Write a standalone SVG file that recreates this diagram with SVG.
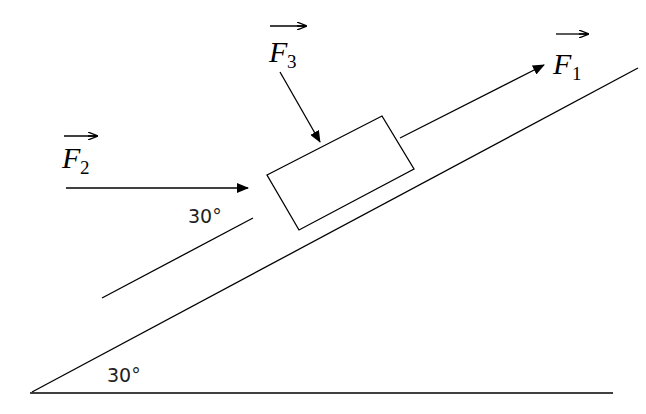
<svg xmlns="http://www.w3.org/2000/svg" width="646" height="414" viewBox="0 0 646 414">
<style>
.l{stroke:#000;stroke-width:1.3;fill:none}
.f{font-family:"Liberation Serif",serif;font-style:italic;font-size:30px}
.s{font-family:"Liberation Serif",serif;font-size:19px}
.d{font-family:"DejaVu Sans",sans-serif;font-size:19px;fill:#222}
</style>
<defs>
<marker id="a" markerWidth="12" markerHeight="10" refX="11" refY="5" orient="auto" markerUnits="userSpaceOnUse"><path d="M0,0 L12,5 L0,10 Z"/></marker>
<marker id="v" markerWidth="10" markerHeight="8" refX="9" refY="4" orient="auto" markerUnits="userSpaceOnUse"><path d="M0,0 L10,4 L0,8 M0,4 L10,4" stroke="#000" fill="none" stroke-width="1.3"/></marker>
</defs>
<g id="ground"><line class="l" x1="30" y1="393" x2="613" y2="393" stroke-width="2"/><line class="l" x1="32" y1="392" x2="638" y2="68"/></g>
<g id="guide"><line class="l" x1="102" y1="298" x2="253" y2="218"/></g>
<g id="block"><polygon class="l" points="267,175 382,116 414,169 299,230"/></g>
<g id="connectors">
<line class="l" x1="66" y1="188" x2="248" y2="188" marker-end="url(#a)"/>
<line class="l" x1="400" y1="138" x2="544" y2="65" marker-end="url(#a)"/>
<line class="l" x1="280" y1="72" x2="320" y2="142" marker-end="url(#a)"/>
</g>
<g id="F1"><text class="f" x="553" y="74">F</text><text class="s" x="572" y="80">1</text><line class="l" x1="556" y1="34" x2="588" y2="34" marker-end="url(#v)"/></g>
<g id="F2"><text class="f" x="62" y="168">F</text><text class="s" x="80" y="174">2</text><line class="l" x1="64" y1="136" x2="97" y2="136" marker-end="url(#v)"/></g>
<g id="F3"><text class="f" x="269" y="62">F</text><text class="s" x="287" y="68">3</text><line class="l" x1="270" y1="26" x2="306" y2="26" marker-end="url(#v)"/></g>
<g id="angles"><text class="d" x="188" y="223">30°</text><text class="d" x="107" y="382">30°</text></g>
</svg>
